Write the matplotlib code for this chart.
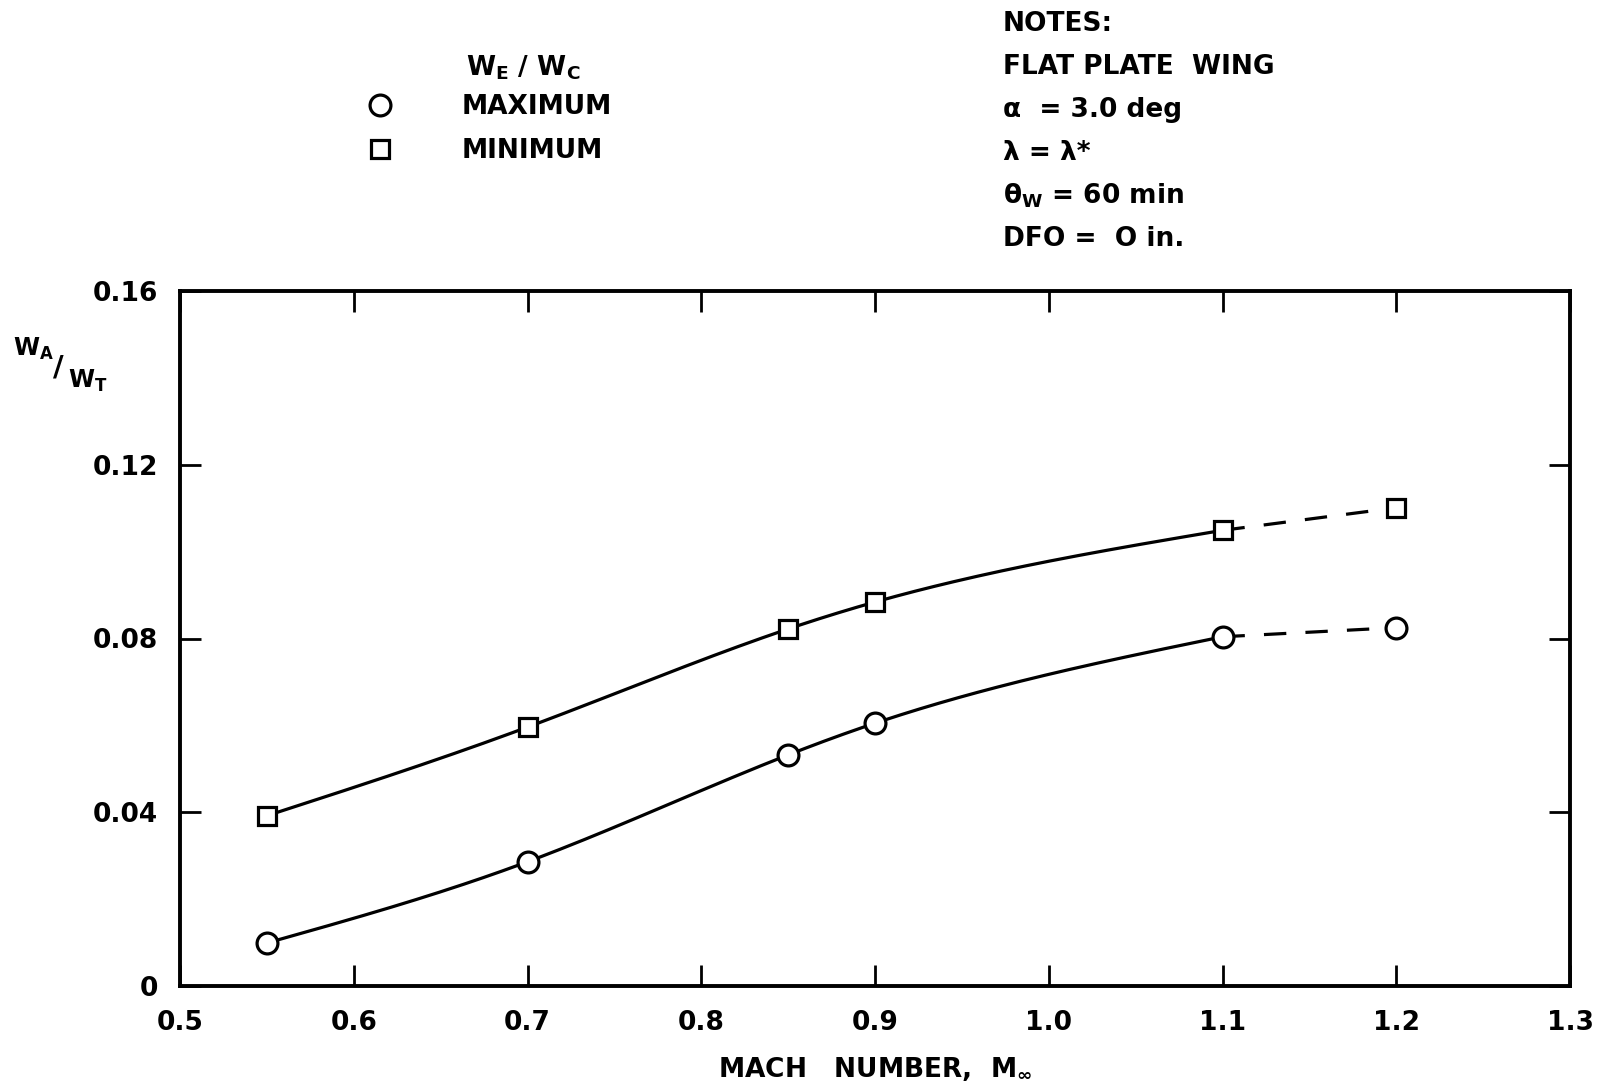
import numpy as np
import matplotlib
matplotlib.use("Agg")
import matplotlib.pyplot as plt

plt.rcParams['font.family'] = ['DejaVu Sans']
plt.rcParams['font.weight'] = 'bold'
plt.rcParams['axes.labelweight'] = 'bold'
plt.rcParams['mathtext.fontset'] = 'dejavusans'
plt.rcParams['mathtext.default'] = 'bf'

# data
mach = [0.55, 0.70, 0.85, 0.90, 1.10, 1.20]
wa_max = [0.0099, 0.0286, 0.0532, 0.0605, 0.0804, 0.0825]
wa_min = [0.0392, 0.0596, 0.0822, 0.0884, 0.1049, 0.1101]
xticks = [0.5, 0.6, 0.7, 0.8, 0.9, 1.0, 1.1, 1.2, 1.3]
xtick_labels = ["0.5", "0.6", "0.7", "0.8", "0.9", "1.0", "1.1", "1.2", "1.3"]
yticks = [0, 0.04, 0.08, 0.12, 0.16]
ytick_labels = ["0", "0.04", "0.08", "0.12", "0.16"]
notes = ["NOTES:", "FLAT PLATE  WING", "α  = 3.0 deg", "λ = λ*",
         r"θ$_{W}$ = 60 min", "DFO =  O in."]

W, H = 1609, 1088


def natural_spline(x, y, n=200):
    # faired curve through the plotted points (natural cubic spline)
    x = np.asarray(x, float)
    y = np.asarray(y, float)
    k = len(x)
    h = np.diff(x)
    A = np.zeros((k, k))
    b = np.zeros(k)
    A[0, 0] = A[-1, -1] = 1
    for i in range(1, k - 1):
        A[i, i - 1] = h[i - 1]
        A[i, i] = 2 * (h[i - 1] + h[i])
        A[i, i + 1] = h[i]
        b[i] = 6 * ((y[i + 1] - y[i]) / h[i] - (y[i] - y[i - 1]) / h[i - 1])
    M = np.linalg.solve(A, b)
    xs = np.linspace(x[0], x[-1], n)
    j = np.clip(np.searchsorted(x, xs) - 1, 0, k - 2)
    t1 = x[j + 1] - xs
    t0 = xs - x[j]
    ys = (M[j] * t1**3 + M[j + 1] * t0**3) / (6 * h[j]) \
        + (y[j] / h[j] - M[j] * h[j] / 6) * t1 \
        + (y[j + 1] / h[j] - M[j + 1] * h[j] / 6) * t0
    return xs, ys


def ftext(x, y, s, **kw):
    # place text using full-size pixel coordinates
    fig.text(x / W, 1 - y / H, s, **kw)


fig = plt.figure(figsize=(W / 100, H / 100), dpi=100)
ax = fig.add_axes([180 / W, 1 - 986 / H, (1570 - 180) / W, (986 - 291) / H])

for ys, mk, ms in [(wa_max, 'o', 15), (wa_min, 's', 13)]:
    cx, cy = natural_spline(mach[:5], ys[:5])
    ax.plot(cx, cy, color='black', lw=2.3, zorder=2)
    ax.plot(mach[4:], ys[4:], color='black', lw=2.3, ls=(0, (7, 6)), zorder=2)
    ax.plot(mach, ys, ls='none', marker=mk, ms=ms, mfc='white', mec='black',
            mew=2.3, zorder=3)

ax.set_xlim(0.5, 1.3)
ax.set_ylim(0, 0.16)
ax.set_xticks(xticks)
ax.set_xticklabels(xtick_labels)
ax.set_yticks(yticks)
ax.set_yticklabels(ytick_labels)
ax.tick_params(direction='in', length=15, width=2, labelsize=19,
               top=True, right=True)
ax.tick_params(axis='x', pad=17)
ax.tick_params(axis='y', pad=16)
for sp in ax.spines.values():
    sp.set_linewidth(2.8)

ax.set_xlabel(r"MACH   NUMBER,  M$_{\infty}$", fontsize=19, labelpad=14)

# y label  W_A / W_T
ftext(13, 356, r"W$_{A}$", fontsize=17, va='baseline')
ftext(53, 375, "/", fontsize=21, va='baseline')
ftext(68, 388, r"W$_{T}$", fontsize=17, va='baseline')

# legend block
ftext(523, 68, r"W$_{E}$ / W$_{C}$", fontsize=19, ha='center', va='center')
ax.plot([380 / W], [1 - 105 / H], transform=fig.transFigure, marker='o', ms=15,
        mfc='white', mec='black', mew=2.3, clip_on=False)
ax.plot([380 / W], [1 - 149 / H], transform=fig.transFigure, marker='s', ms=13,
        mfc='white', mec='black', mew=2.3, clip_on=False)
ftext(462, 107, "MAXIMUM", fontsize=19, va='center')
ftext(462, 151, "MINIMUM", fontsize=19, va='center')

# notes block
for i, s in enumerate(notes):
    ftext(1003, 24 + i * 43, s, fontsize=19, va='center')

fig.savefig("out.png", dpi=100)
